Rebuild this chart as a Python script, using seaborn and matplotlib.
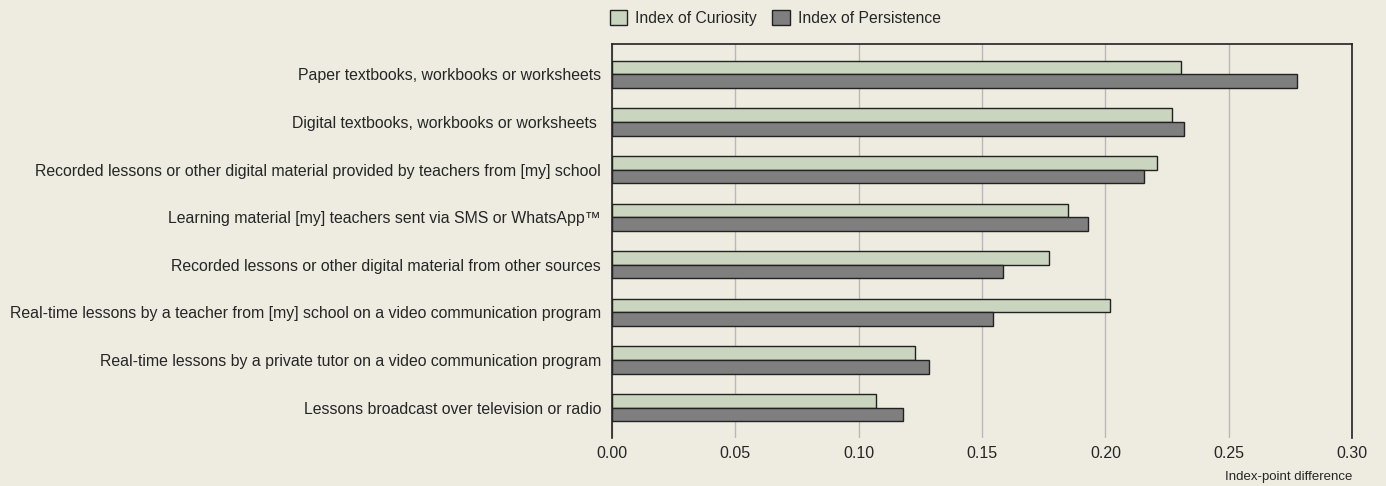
import pandas as pd
import seaborn as sns
import matplotlib.pyplot as plt

# Data
resources = [
    "Paper textbooks, workbooks or worksheets",
    "Digital textbooks, workbooks or worksheets ",
    "Recorded lessons or other digital material provided by teachers from [my] school",
    "Learning material [my] teachers sent via SMS or WhatsApp\u2122",
    "Recorded lessons or other digital material from other sources",
    "Real-time lessons by a teacher from [my] school on a video communication program",
    "Real-time lessons by a private tutor on a video communication program",
    "Lessons broadcast over television or radio",
]
curiosity = [0.2305, 0.227, 0.221, 0.185, 0.177, 0.202, 0.1228, 0.107]
persistence = [0.2777, 0.232, 0.2155, 0.1928, 0.1585, 0.1543, 0.1285, 0.118]
series = ["Index of Curiosity", "Index of Persistence"]

df = pd.DataFrame({
    "resource": resources * 2,
    "value": curiosity + persistence,
    "index": [series[0]] * len(resources) + [series[1]] * len(resources),
})

bg = "#eeebe1"
sns.set_style("white")
plt.rcParams["font.family"] = ["Liberation Sans", "DejaVu Sans"]

fig = plt.figure(figsize=(13.86, 4.86), dpi=100, facecolor=bg)
ax = fig.add_axes([0.4416, 0.0988, 0.5339, 0.8107])
ax.set_facecolor(bg)

sns.barplot(data=df, y="resource", x="value", hue="index", order=resources,
            hue_order=series, palette=["#c9d9bb", "#7f7f7f"], width=0.57,
            edgecolor="#222222", linewidth=1, ax=ax, zorder=3)

ax.set_xlim(0, 0.30)
ax.set_ylim(7.64, -0.64)
ax.set_xticks([0, 0.05, 0.10, 0.15, 0.20, 0.25, 0.30])
ax.set_xticklabels(["0.00", "0.05", "0.10", "0.15", "0.20", "0.25", "0.30"], fontsize=11.5)
ax.tick_params(axis="x", length=0, pad=6)
ax.tick_params(axis="y", length=0, labelsize=11.4, pad=8)
ax.grid(axis="x", color="#b8b8b8", linewidth=1, zorder=0)
ax.set_axisbelow(True)
ax.set_xlabel("")
ax.set_ylabel("")

for side in ["left", "top", "right"]:
    ax.spines[side].set_color("#222222")
    ax.spines[side].set_linewidth(1.2)
ax.spines["bottom"].set_visible(False)

ax.text(1.0, -0.085, "Index-point difference", transform=ax.transAxes,
        ha="right", va="top", fontsize=9.5)

leg = ax.legend(loc="lower left", bbox_to_anchor=(-0.003, 1.045), ncol=2,
                frameon=False, fontsize=11.3, handlelength=1.1, handleheight=1.1,
                handletextpad=0.5, columnspacing=1.0, borderaxespad=0, borderpad=0)

plt.savefig("out.png", dpi=100, facecolor=bg)
